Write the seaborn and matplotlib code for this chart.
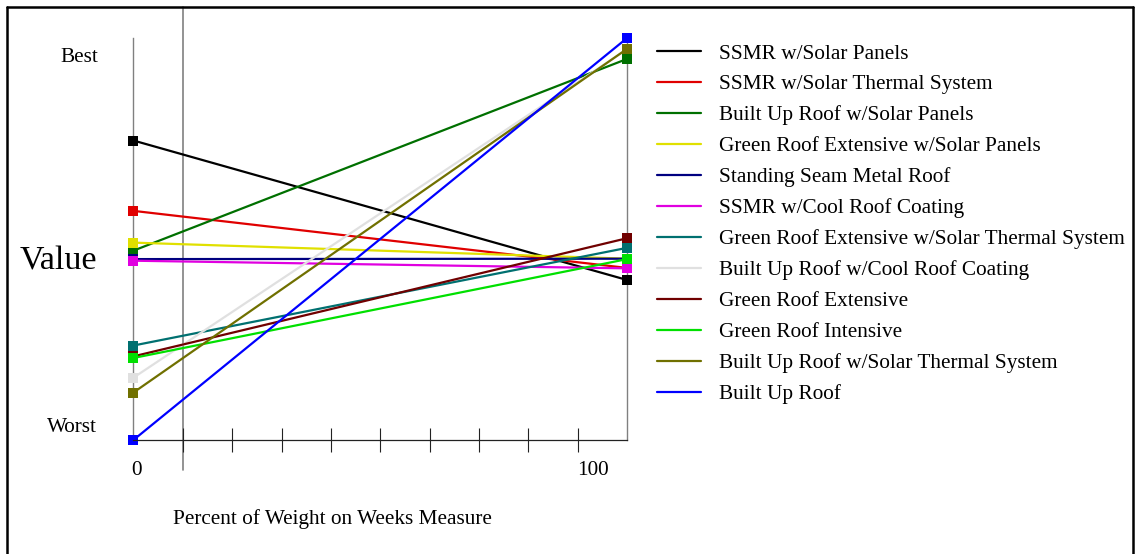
import numpy as np
import pandas as pd
import matplotlib
matplotlib.use("Agg")
import matplotlib.pyplot as plt
from matplotlib.lines import Line2D
import seaborn as sns

# data (0 = Worst, 1 = Best)
SERIES = [
    "SSMR w/Solar Panels",
    "SSMR w/Solar Thermal System",
    "Built Up Roof w/Solar Panels",
    "Green Roof Extensive w/Solar Panels",
    "Standing Seam Metal Roof",
    "SSMR w/Cool Roof Coating",
    "Green Roof Extensive w/Solar Thermal System",
    "Built Up Roof w/Cool Roof Coating",
    "Green Roof Extensive",
    "Green Roof Intensive",
    "Built Up Roof w/Solar Thermal System",
    "Built Up Roof",
]
COLORS = [
    "#000000", "#e00000", "#007000", "#e0e000", "#000080", "#e000e0",
    "#007070", "#e0e0e0", "#700000", "#00e000", "#707000", "#0000ff",
]
WEIGHT = [0, 100]
VALUE_AT_0 = [0.745, 0.570, 0.471, 0.491, 0.450, 0.446, 0.235, 0.155, 0.208, 0.204, 0.118, 0.0]
VALUE_AT_100 = [0.398, 0.428, 0.948, 0.451, 0.451, 0.427, 0.478, 0.972, 0.502, 0.450, 0.973, 1.0]
TICKS = list(range(10, 100, 10))

rows = []
for name, v0, v1 in zip(SERIES, VALUE_AT_0, VALUE_AT_100):
    rows.append({"Roof": name, "Weight": WEIGHT[0], "Value": v0})
    rows.append({"Roof": name, "Weight": WEIGHT[1], "Value": v1})
df = pd.DataFrame(rows)
palette = dict(zip(SERIES, COLORS))

sns.set_style("white")
plt.rcParams["font.family"] = ["Liberation Serif", "DejaVu Serif"]
plt.rcParams["text.color"] = "black"

W, H = 1136, 554
fig = plt.figure(figsize=(W / 100, H / 100), dpi=100)
x0, x1, y0, y1 = 133.4, 627.1, 440.0, 38.0
ax = fig.add_axes([x0 / W, 1 - y0 / H, (x1 - x0) / W, (y0 - y1) / H])

sns.lineplot(data=df, x="Weight", y="Value", hue="Roof", hue_order=SERIES,
             palette=palette, marker="s", markersize=6.5, markeredgewidth=0,
             linewidth=1.6, legend=False, ax=ax, clip_on=False)

ax.set_xlim(0, 100)
ax.set_ylim(0, 1)
ax.set_xlabel("")
ax.set_ylabel("")
ax.set_yticks([])
ax.set_xticks(TICKS)
ax.set_xticklabels([])
ax.tick_params(axis="x", direction="inout", length=17, width=0.8, color="#222222", bottom=True)
ax.spines["top"].set_visible(False)
for side in ["left", "right"]:
    ax.spines[side].set_color("#808080")
    ax.spines[side].set_linewidth(1.0)
    ax.spines[side].set_zorder(0)
ax.spines["bottom"].set_color("#222222")
ax.spines["bottom"].set_linewidth(0.9)

# marker line at 10 percent, running from the top frame down past the axis
ax.axvline(10, ymin=(y0 - 470) / (y0 - y1), ymax=(y0 - 7) / (y0 - y1),
           color="#808080", linewidth=1.2, clip_on=False, zorder=0)

# legend
handles = [Line2D([], [], color=c, linewidth=1.6) for c in COLORS]
ax.legend(handles, SERIES, loc="upper left", bbox_to_anchor=(657 / W, 1 - 43.7 / H),
          bbox_transform=fig.transFigure, frameon=False, fontsize=15.3,
          handlelength=2.07, handletextpad=0.85, labelspacing=0.52,
          borderpad=0, borderaxespad=0, labelcolor="black")

# texts
def ftext(px, py, s, **kw):
    fig.text(px / W, 1 - py / H, s, color="black", **kw)

ftext(98, 61.7, "Best", ha="right", va="baseline", fontsize=15.3)
ftext(97, 431.7, "Worst", ha="right", va="baseline", fontsize=15.3)
ftext(97.3, 269.3, "Value", ha="right", va="baseline", fontsize=24.5)
ftext(131, 475, "0", ha="left", va="baseline", fontsize=15.3)
ftext(577, 475, "100", ha="left", va="baseline", fontsize=15.3)
ftext(332, 524, "Percent of Weight on Weeks Measure", ha="center", va="baseline", fontsize=15.3)

# outer frame (bottom edge falls outside the picture)
fx0, fx1, fy0 = 6.7 / W, 1132.7 / W, 1 - 6.7 / H
for xs, ys in [([fx0, fx0], [-0.1, fy0]), ([fx0, fx1], [fy0, fy0]), ([fx1, fx1], [fy0, -0.1])]:
    fig.add_artist(Line2D(xs, ys, color="black", linewidth=1.8, transform=fig.transFigure))

fig.savefig("out.png", dpi=100)
